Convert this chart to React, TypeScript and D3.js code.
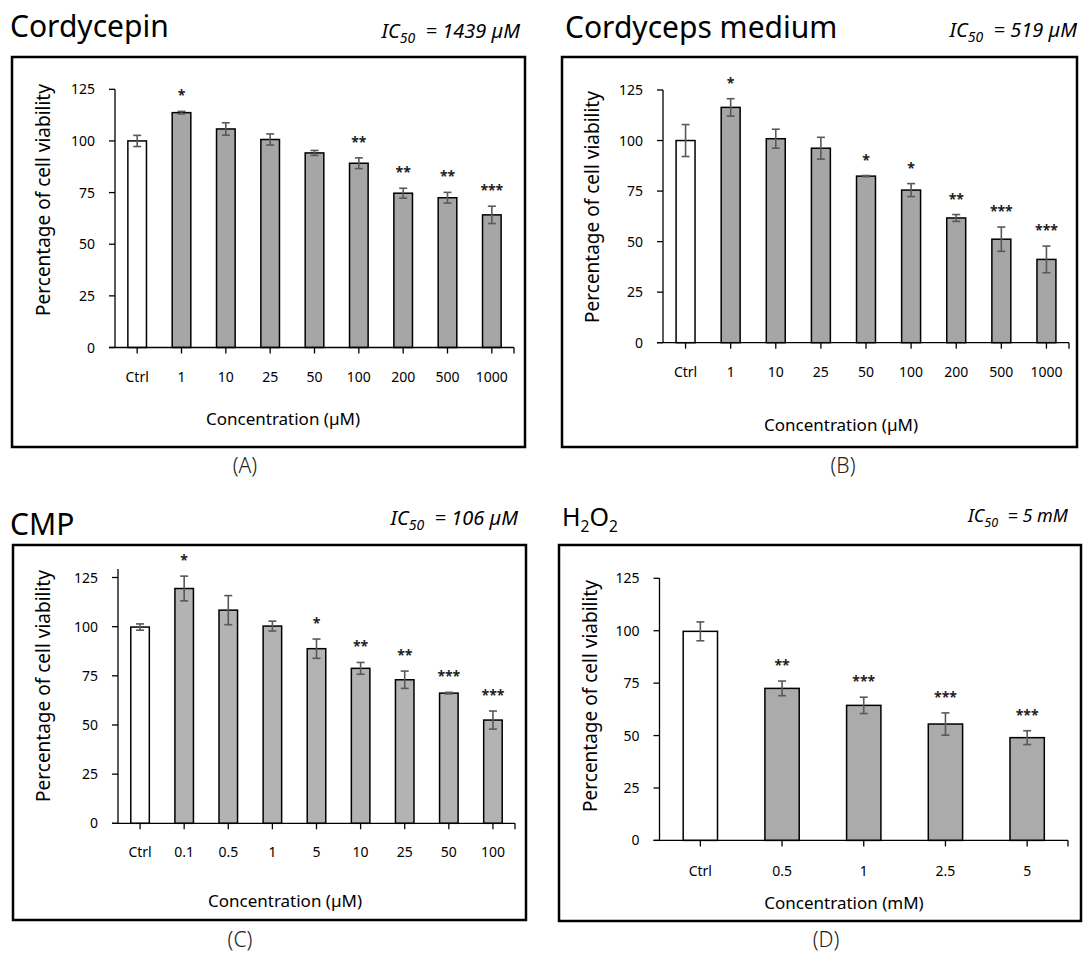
import React, { useEffect, useRef } from 'react';
import * as d3 from 'd3';

// ---- data ----
const yTicks = [0, 25, 50, 75, 100, 125];

const cordycepinDoses = ['Ctrl', '1', '10', '25', '50', '100', '200', '500', '1000'];
const cordycepinMeans = [100, 113.7, 105.8, 100.7, 94.2, 89.2, 74.7, 72.5, 64.2];
const cordycepinErrors = [2.7, 0.6, 3, 2.7, 1.2, 2.6, 2.4, 2.6, 4.2];
const cordycepinStars = ['', '*', '', '', '', '**', '**', '**', '***'];

const mediumDoses = ['Ctrl', '1', '10', '25', '50', '100', '200', '500', '1000'];
const mediumMeans = [100, 116.4, 100.9, 96.2, 82.4, 75.5, 61.7, 51.2, 41.2];
const mediumErrors = [7.9, 4.3, 4.7, 5.4, 0.3, 3.2, 1.7, 6, 6.6];
const mediumStars = ['', '*', '', '', '*', '*', '**', '***', '***'];

const cmpDoses = ['Ctrl', '0.1', '0.5', '1', '5', '10', '25', '50', '100'];
const cmpMeans = [99.8, 119.4, 108.4, 100.3, 88.8, 78.8, 73, 66.2, 52.5];
const cmpErrors = [1.6, 6.3, 7.4, 2.5, 4.9, 3, 4.4, 0.4, 4.6];
const cmpStars = ['', '*', '', '', '*', '**', '**', '***', '***'];

const h2o2Doses = ['Ctrl', '0.5', '1', '2.5', '5'];
const h2o2Means = [99.7, 72.5, 64.4, 55.5, 49];
const h2o2Errors = [4.5, 3.5, 3.9, 5.3, 3.3];
const h2o2Stars = ['', '**', '***', '***', '***'];

const FONT = "'Noto Sans', 'DejaVu Sans', sans-serif";

// layout of each panel (pixels in the 1083x956 page)
const panels = [
    {
        doses: cordycepinDoses, means: cordycepinMeans, errors: cordycepinErrors, stars: cordycepinStars,
        title: 'Cordycepin', ic50: '= 1439 µM', xTitle: 'Concentration (µM)', tag: '(A)',
        box: [12, 57, 525, 447], left: 115, right: 514, y0: 347.5, y125: 89.3, yMax: 125,
        titlePos: [10, 37], titleSize: 30, icPos: [520, 38], icSize: 20,
        yLabel: [43, 200], xTitlePos: [283, 425], tickY: 382, tagPos: [245, 473], fill: '#a6a6a6'
    },
    {
        doses: mediumDoses, means: mediumMeans, errors: mediumErrors, stars: mediumStars,
        title: 'Cordyceps medium', ic50: '= 519 µM', xTitle: 'Concentration (µM)', tag: '(B)',
        box: [562, 57, 1077, 447], left: 663, right: 1069, y0: 342.7, y125: 90, yMax: 125,
        titlePos: [565, 38], titleSize: 30, icPos: [1077, 37], icSize: 20,
        yLabel: [592, 207], xTitlePos: [841, 431], tickY: 377, tagPos: [843, 473], fill: '#a6a6a6'
    },
    {
        doses: cmpDoses, means: cmpMeans, errors: cmpErrors, stars: cmpStars,
        title: 'CMP', ic50: '= 106 µM', xTitle: 'Concentration (µM)', tag: '(C)',
        box: [13, 545, 526, 920], left: 118, right: 515, y0: 823.3, y125: 577.5, yMax: 129.3,
        titlePos: [10, 535], titleSize: 30, icPos: [518, 525], icSize: 20,
        yLabel: [43, 686], xTitlePos: [285, 907], tickY: 857, tagPos: [240, 947], fill: '#b3b3b3'
    },
    {
        doses: h2o2Doses, means: h2o2Means, errors: h2o2Errors, stars: h2o2Stars,
        title: 'H2O2', ic50: '= 5 mM', xTitle: 'Concentration (mM)', tag: '(D)',
        box: [559, 545, 1081, 921], left: 659.5, right: 1068, y0: 840.4, y125: 578.3, yMax: 125,
        titlePos: [562, 526], titleSize: 25, icPos: [1068, 522], icSize: 18,
        yLabel: [590, 696], xTitlePos: [844, 909], tickY: 876, tagPos: [826, 947], fill: '#ababab'
    }
];

const App = () => {
    const svgRef = useRef(null);

    useEffect(() => {
        const svg = d3.select(svgRef.current);
        svg.selectAll('*').remove();

        svg.append('rect').attr('width', 1083).attr('height', 956).attr('fill', '#fff');

        panels.forEach(p => {
            const g = svg.append('g').attr('font-family', FONT);

            // frame
            const [bx0, by0, bx1, by1] = p.box;
            g.append('rect')
                .attr('x', bx0).attr('y', by0)
                .attr('width', bx1 - bx0).attr('height', by1 - by0)
                .attr('fill', 'none').attr('stroke', '#000').attr('stroke-width', 2.5);

            // title
            const t = g.append('text')
                .attr('x', p.titlePos[0]).attr('y', p.titlePos[1])
                .attr('font-size', p.titleSize).attr('fill', '#000');
            if (p.title === 'H2O2') {
                t.append('tspan').text('H');
                t.append('tspan').text('2').attr('font-size', p.titleSize * 0.62).attr('dy', 6);
                t.append('tspan').text('O').attr('dy', -6);
                t.append('tspan').text('2').attr('font-size', p.titleSize * 0.62).attr('dy', 6);
            } else {
                t.text(p.title);
            }

            // IC50 note
            const ic = g.append('text')
                .attr('x', p.icPos[0]).attr('y', p.icPos[1])
                .attr('text-anchor', 'end')
                .attr('font-style', 'italic')
                .attr('font-size', p.icSize).attr('fill', '#000');
            ic.append('tspan').text('IC');
            ic.append('tspan').text('50').attr('font-size', p.icSize * 0.7).attr('dy', 5);
            ic.append('tspan').text('\u00a0\u00a0' + p.ic50).attr('dy', -5);

            // scales
            const x = d3.scaleBand()
                .domain(p.doses)
                .range([p.left, p.right])
                .paddingInner(0.58)
                .paddingOuter(0.29);
            const y = d3.scaleLinear().domain([0, 125]).range([p.y0, p.y125]);

            // bars
            g.selectAll('.bar')
                .data(p.means)
                .enter()
                .append('rect')
                .attr('x', (d, i) => x(p.doses[i]))
                .attr('y', d => y(d))
                .attr('width', x.bandwidth())
                .attr('height', d => y(0) - y(d))
                .attr('fill', (d, i) => (i === 0 ? '#fff' : p.fill))
                .attr('stroke', '#000')
                .attr('stroke-width', 1.5);

            // error bars + significance stars
            p.means.forEach((m, i) => {
                const cx = x(p.doses[i]) + x.bandwidth() / 2;
                const lo = y(m - p.errors[i]);
                const hi = y(m + p.errors[i]);
                const eg = g.append('g').attr('stroke', '#595959').attr('stroke-width', 1.6);
                eg.append('line').attr('x1', cx).attr('x2', cx).attr('y1', lo).attr('y2', hi);
                eg.append('line').attr('x1', cx - 4).attr('x2', cx + 4).attr('y1', lo).attr('y2', lo);
                eg.append('line').attr('x1', cx - 4).attr('x2', cx + 4).attr('y1', hi).attr('y2', hi);

                if (p.stars[i]) {
                    g.append('text')
                        .attr('x', cx).attr('y', hi - 11)
                        .attr('text-anchor', 'middle')
                        .attr('font-size', 14)
                        .attr('font-weight', 'bold')
                        .attr('fill', '#222')
                        .text(p.stars[i]);
                }
            });

            // y axis
            g.append('line')
                .attr('x1', p.left).attr('x2', p.left)
                .attr('y1', y(0)).attr('y2', y(p.yMax))
                .attr('stroke', '#000').attr('stroke-width', 1.3);
            yTicks.forEach(v => {
                g.append('line')
                    .attr('x1', p.left - 6).attr('x2', p.left)
                    .attr('y1', y(v)).attr('y2', y(v))
                    .attr('stroke', '#000').attr('stroke-width', 1.3);
                g.append('text')
                    .attr('x', p.left - 20).attr('y', y(v) + 5)
                    .attr('text-anchor', 'end')
                    .attr('font-size', 14)
                    .attr('fill', '#000')
                    .text(v);
            });

            // x axis
            g.append('line')
                .attr('x1', p.left - 6).attr('x2', p.right)
                .attr('y1', y(0)).attr('y2', y(0))
                .attr('stroke', '#000').attr('stroke-width', 1.3);
            p.doses.forEach(d => {
                const cx = x(d) + x.bandwidth() / 2;
                g.append('line')
                    .attr('x1', cx).attr('x2', cx)
                    .attr('y1', y(0)).attr('y2', y(0) + 6)
                    .attr('stroke', '#000').attr('stroke-width', 1.3);
                g.append('text')
                    .attr('x', cx).attr('y', p.tickY)
                    .attr('text-anchor', 'middle')
                    .attr('font-size', 14)
                    .attr('fill', '#000')
                    .text(d);
            });
            g.append('line')
                .attr('x1', p.right).attr('x2', p.right)
                .attr('y1', y(0)).attr('y2', y(0) + 6)
                .attr('stroke', '#000').attr('stroke-width', 1.3);

            // axis titles
            g.append('text')
                .attr('transform', `translate(${p.yLabel[0]},${p.yLabel[1]}) rotate(-90)`)
                .attr('text-anchor', 'middle')
                .attr('dominant-baseline', 'central')
                .attr('font-size', 19)
                .attr('fill', '#000')
                .text('Percentage of cell viability');
            g.append('text')
                .attr('x', p.xTitlePos[0]).attr('y', p.xTitlePos[1])
                .attr('text-anchor', 'middle')
                .attr('font-size', 17)
                .attr('fill', '#000')
                .text(p.xTitle);

            // panel tag
            g.append('text')
                .attr('x', p.tagPos[0]).attr('y', p.tagPos[1])
                .attr('text-anchor', 'middle')
                .attr('font-size', 21)
                .attr('font-weight', 300)
                .attr('fill', '#222')
                .text(p.tag);
        });
    }, []);

    return (
        <svg
            ref={svgRef}
            width={1083}
            height={956}
            style={{ position: 'absolute', left: 0, top: 0, display: 'block' }}
        />
    );
};

export default App;
